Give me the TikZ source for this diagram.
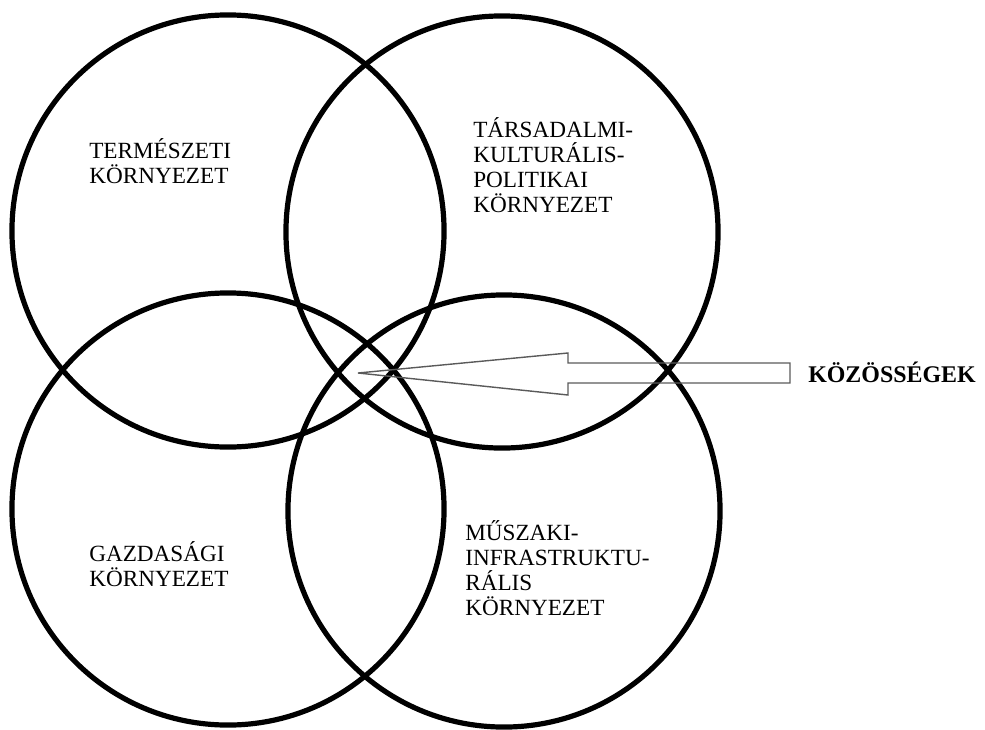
\documentclass[tikz,border=0pt]{standalone}
\usepackage{fontspec}
\setmainfont{Liberation Serif}
\definecolor{arrowgray}{RGB}{90,90,90}
\tikzset{
  ring/.style = {circle, draw, line width=3.7pt, minimum size=10.8cm, inner sep=0pt},
  areatext/.style = {align=left, anchor=north west, inner sep=0pt,
                     font=\fontsize{16.5}{17.8}\selectfont},
  kozbox/.style = {anchor=west, inner sep=0pt, font=\fontsize{17}{19}\selectfont\bfseries}
}
\begin{document}
\begin{tikzpicture}[x=0.025cm, y=-0.025cm]

    \useasboundingbox (0,0) rectangle (985,729);

    % four environments
    \foreach \name/\x/\y in {nat/228/231, soc/502/232, eco/228/509, tech/504/511}
        \node[ring] (\name) at (\x,\y) {};

    \node[areatext] (natlabel)  at (89,138)  {TERMÉSZETI\\KÖRNYEZET};
    \node[areatext] (soclabel)  at (473,117) {TÁRSADALMI-\\KULTURÁLIS-\\POLITIKAI\\KÖRNYEZET};
    \node[areatext] (ecolabel)  at (89,541)  {GAZDASÁGI\\KÖRNYEZET};
    \node[areatext] (techlabel) at (465,520) {MŰSZAKI-\\INFRASTRUKTU-\\RÁLIS\\KÖRNYEZET};

    \node[kozbox] (koz) at (808,372) {KÖZÖSSÉGEK};

    % hollow arrow
    \coordinate (tip) at (358,373);
    \coordinate (tail) at (790,373);
    \draw[arrowgray, line width=1pt, line join=miter]
        (tip) -- (568,353) -- (568,363) -- (tail |- 0,363) -- (tail |- 0,383)
        -- (568,383) -- (568,395) -- cycle;
\end{tikzpicture}
\end{document}
